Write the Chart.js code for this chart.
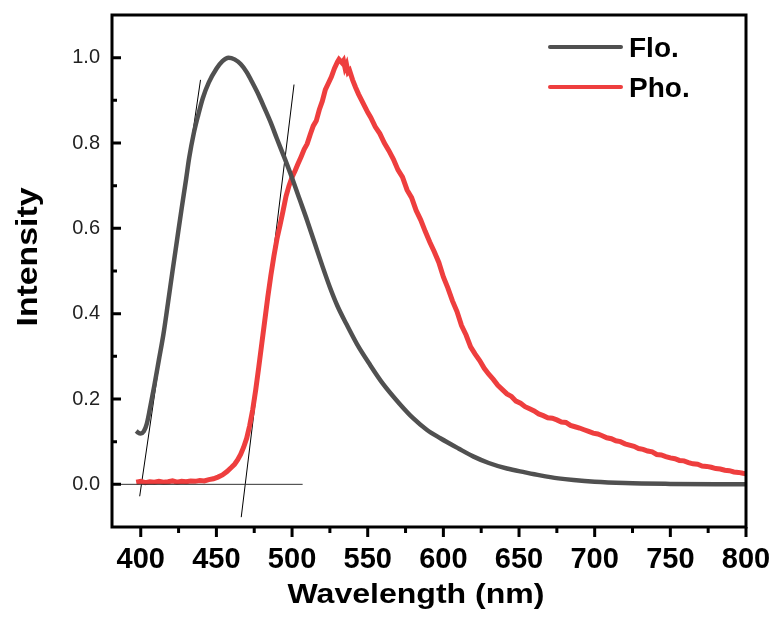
<!DOCTYPE html>
<html>
<head>
<meta charset="utf-8">
<script src="https://cdn.jsdelivr.net/npm/chart.js@4.4.1/dist/chart.umd.min.js"></script>
<style>
  body { margin: 0; background: #fff; }
  canvas { display: block; }
</style>
</head>
<body>
<canvas id="chart" width="779" height="617"></canvas>
<script>
// Fluorescence (Flo.) spectrum
const floX = [397, 398, 400, 402, 404, 406, 409, 412, 415, 418, 421, 424, 427, 430, 432, 435, 438, 441, 445, 450, 454, 458,
  462, 466, 470, 474, 478, 482, 486, 490, 495, 500, 505, 510, 515, 520, 525, 530, 536, 543, 551, 560, 571, 580, 589,
  598, 610, 620, 630, 642, 654, 664, 676, 686, 700, 720, 750, 780, 800];
const floY = [0.125, 0.122, 0.119, 0.124, 0.142, 0.176, 0.232, 0.292, 0.352, 0.425, 0.5, 0.573, 0.646, 0.716, 0.765, 0.822, 0.866, 0.905, 0.942, 0.974, 0.992, 1.0,
  0.996, 0.985, 0.966, 0.94, 0.912, 0.88, 0.847, 0.81, 0.765, 0.718, 0.668, 0.618, 0.565, 0.512, 0.462, 0.418, 0.375, 0.328, 0.283, 0.236, 0.189, 0.155, 0.128,
  0.108, 0.084, 0.065, 0.05, 0.037, 0.028, 0.021, 0.014, 0.01, 0.006, 0.003, 0.001, 0.0, 0.0];

// Phosphorescence (Pho.) spectrum
const phoX = [397, 400, 403, 406, 409, 412, 415, 418, 421, 424, 427, 430, 433, 436, 439, 442, 445, 448, 451, 454, 457, 460,
  462, 464, 466, 468, 470, 472, 474, 476, 478, 480, 482, 484, 486, 488, 490, 492, 494, 496, 498, 500, 502, 504, 506,
  508, 510, 512, 514, 516, 518, 520, 522, 524, 526, 528, 530, 531, 532, 533, 534, 535, 536, 537, 538, 540, 542, 544,
  546, 548, 550, 552, 555, 558, 561, 564, 567, 570, 573, 576, 579, 582, 585, 588, 591, 594, 597, 600, 603, 606, 609,
  612, 615, 618, 621, 624, 627, 630, 633, 636, 639, 642, 645, 648, 651, 654, 657, 660, 663, 666, 669, 672, 675, 678,
  681, 684, 687, 690, 693, 696, 699, 702, 705, 708, 711, 714, 717, 720, 723, 726, 729, 732, 735, 738, 741, 744, 747,
  750, 753, 756, 759, 762, 765, 768, 771, 774, 777, 780, 783, 786, 789, 792, 795, 798, 800];
const phoY = [0.005, 0.007, 0.004, 0.006, 0.005, 0.007, 0.005, 0.006, 0.008, 0.005, 0.007, 0.006, 0.008, 0.007, 0.009, 0.008, 0.011, 0.013, 0.017, 0.022, 0.03, 0.04,
  0.047, 0.057, 0.07, 0.087, 0.108, 0.138, 0.175, 0.222, 0.275, 0.33, 0.385, 0.44, 0.49, 0.535, 0.575, 0.607, 0.64, 0.675, 0.7, 0.72, 0.735, 0.752, 0.768,
  0.785, 0.798, 0.82, 0.84, 0.852, 0.878, 0.898, 0.925, 0.94, 0.955, 0.975, 0.99, 0.996, 0.992, 0.988, 0.993, 0.976, 0.984, 0.966, 0.97, 0.948, 0.93, 0.914,
  0.9, 0.886, 0.872, 0.86, 0.838, 0.822, 0.8, 0.782, 0.762, 0.737, 0.72, 0.69, 0.672, 0.642, 0.62, 0.593, 0.568, 0.545, 0.52, 0.486, 0.46, 0.43, 0.405,
  0.372, 0.35, 0.322, 0.305, 0.29, 0.272, 0.258, 0.246, 0.232, 0.222, 0.212, 0.206, 0.195, 0.19, 0.182, 0.177, 0.172, 0.165, 0.161, 0.156, 0.155, 0.151, 0.146,
  0.145, 0.138, 0.135, 0.132, 0.128, 0.124, 0.12, 0.118, 0.114, 0.109, 0.107, 0.102, 0.1, 0.095, 0.092, 0.089, 0.084, 0.082, 0.078, 0.076, 0.07, 0.069, 0.065,
  0.062, 0.06, 0.056, 0.055, 0.051, 0.048, 0.047, 0.043, 0.042, 0.04, 0.037, 0.036, 0.033, 0.032, 0.029, 0.028, 0.026, 0.025];

// tangent lines and baseline used for the onset estimate
const tangentFloX = [399.3, 439.5];
const tangentFloY = [-0.028, 0.948];
const tangentPhoX = [466.4, 501.3];
const tangentPhoY = [-0.077, 0.937];
const baselineX = [381, 507];
const baselineY = [0, 0];

// axis ticks
const xTicks = [400, 450, 500, 550, 600, 650, 700, 750, 800];
const xMinor = [425, 475, 525, 575, 625, 675, 725, 775];
const yTicks = [0, 0.2, 0.4, 0.6, 0.8, 1.0];
const yMinor = [0.1, 0.3, 0.5, 0.7, 0.9];

const legendLabels = ['Flo.', 'Pho.'];
const xTitle = 'Wavelength (nm)';
const yTitle = 'Intensity';
const GRAY = 'rgb(80,80,80)';
const RED = 'rgb(238,62,62)';
const FONT = 'Arial, "Liberation Sans", sans-serif';

function pts(xs, ys) {
  return xs.map((x, i) => ({ x: x, y: ys[i] }));
}

// text squeezed/stretched to a target width (Origin's bold titles are wide)
function wideText(ctx, text, x, y, width) {
  const w = ctx.measureText(text).width;
  ctx.save();
  ctx.translate(x, y);
  ctx.scale(width / w, 1);
  ctx.fillText(text, -w / 2, 0);
  ctx.restore();
}

// frame, tick marks, titles and legend
const framePlugin = {
  id: 'frame',
  afterDraw(chart) {
    const ctx = chart.ctx;
    const a = chart.chartArea;
    const xs = chart.scales.x, ys = chart.scales.y;
    ctx.save();
    ctx.strokeStyle = '#000';
    ctx.lineWidth = 3;
    ctx.strokeRect(a.left, a.top, a.right - a.left, a.bottom - a.top);
    ctx.beginPath();
    xTicks.forEach(v => { const p = xs.getPixelForValue(v); ctx.moveTo(p, a.bottom); ctx.lineTo(p, a.bottom + 10); });
    yTicks.forEach(v => { const p = ys.getPixelForValue(v); ctx.moveTo(a.left, p); ctx.lineTo(a.left + 9, p); });
    ctx.stroke();
    ctx.beginPath();
    xMinor.forEach(v => { const p = xs.getPixelForValue(v); ctx.moveTo(p, a.bottom); ctx.lineTo(p, a.bottom + 6); });
    yMinor.forEach(v => { const p = ys.getPixelForValue(v); ctx.moveTo(a.left, p); ctx.lineTo(a.left + 5, p); });
    ctx.stroke();

    // axis titles
    ctx.fillStyle = '#000';
    ctx.textBaseline = 'alphabetic';
    ctx.font = 'bold 28px ' + FONT;
    wideText(ctx, xTitle, 416, 603, 257);
    ctx.save();
    ctx.translate(37, 257);
    ctx.rotate(-Math.PI / 2);
    ctx.font = 'bold 30px ' + FONT;
    wideText(ctx, yTitle, 0, 0, 139);
    ctx.restore();

    // legend
    const colors = [GRAY, RED];
    ctx.lineCap = 'round';
    ctx.lineWidth = 4;
    ctx.font = 'bold 28px ' + FONT;
    legendLabels.forEach((t, i) => {
      const y = 47 + i * 40;
      ctx.strokeStyle = colors[i];
      ctx.beginPath();
      ctx.moveTo(550, y);
      ctx.lineTo(621, y);
      ctx.stroke();
      ctx.fillText(t, 629, y + 10);
    });
    ctx.restore();
  }
};

const ctx = document.getElementById('chart').getContext('2d');

new Chart(ctx, {
  type: 'scatter',
  data: {
    datasets: [
      { label: 'baseline', data: pts(baselineX, baselineY), showLine: true, borderColor: '#333', borderWidth: 1, pointRadius: 0 },
      { label: 'Flo.', data: pts(floX, floY), showLine: true, borderColor: GRAY, borderWidth: 4.5, pointRadius: 0, cubicInterpolationMode: 'monotone' },
      { label: 'Pho.', data: pts(phoX, phoY), showLine: true, borderColor: RED, borderWidth: 5, pointRadius: 0, tension: 0 },
      { label: 'tFlo', data: pts(tangentFloX, tangentFloY), showLine: true, borderColor: '#000', borderWidth: 1, pointRadius: 0 },
      { label: 'tPho', data: pts(tangentPhoX, tangentPhoY), showLine: true, borderColor: '#000', borderWidth: 1, pointRadius: 0 }
    ]
  },
  options: {
    responsive: false,
    animation: false,
    devicePixelRatio: 1,
    layout: { padding: { left: 0, right: 33, top: 15, bottom: 0 } },
    plugins: { legend: { display: false }, tooltip: { enabled: false } },
    scales: {
      x: {
        type: 'linear', min: 381, max: 800,
        afterBuildTicks: s => { s.ticks = xTicks.map(v => ({ value: v })); },
        afterFit: s => { s.height = 90; s.paddingLeft = 0; s.paddingRight = 0; },
        grid: { display: false, drawTicks: false },
        border: { display: false },
        ticks: { color: '#000', padding: 16, maxRotation: 0, font: { family: FONT, size: 29, weight: 'bold' } }
      },
      y: {
        type: 'linear', min: -0.1, max: 1.1,
        afterBuildTicks: s => { s.ticks = yTicks.map(v => ({ value: v })); },
        afterFit: s => { s.width = 112; s.paddingTop = 0; s.paddingBottom = 0; },
        grid: { display: false, drawTicks: false },
        border: { display: false },
        ticks: { color: '#222', padding: 12, callback: v => v.toFixed(1), font: { family: FONT, size: 20 } }
      }
    }
  },
  plugins: [framePlugin]
});
</script>
</body>
</html>
